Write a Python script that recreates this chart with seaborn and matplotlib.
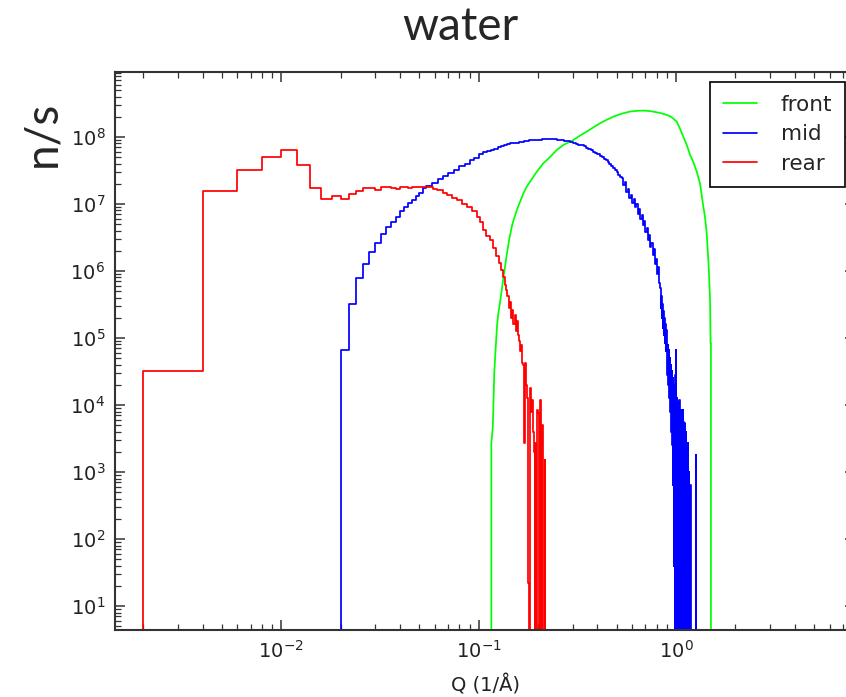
import numpy as np
import pandas as pd
import matplotlib
matplotlib.use("Agg")
import matplotlib.pyplot as plt
import seaborn as sns
from matplotlib.ticker import LogLocator, NullFormatter

# ---------------- data ----------------
series_names = ["front", "mid", "rear"]
series_colors = ["#00ff00", "#0000ff", "#ff0000"]

title_text = "water"
ylabel_text = "n/s"
xlabel_text = "Q (1/Å)"

# bin left edges (Q, 1/Å) and counts (n/s); a 0 means the bin is empty
rear_q = [0.002, 0.002, 0.004, 0.006, 0.008, 0.010, 0.012, 0.014, 0.016, 0.018,
          0.020, 0.022, 0.024, 0.026, 0.028, 0.030, 0.032, 0.034, 0.036, 0.038,
          0.040, 0.042, 0.044, 0.046, 0.048, 0.050, 0.052, 0.054, 0.059, 0.0614,
          0.0661, 0.0693, 0.0734, 0.0778, 0.0825, 0.0874, 0.0927, 0.0983, 0.1018, 0.1054,
          0.1092, 0.1144, 0.1184, 0.1227, 0.127, 0.130, 0.133,
          0.136, 0.138, 0.140, 0.142, 0.144, 0.146, 0.148, 0.150, 0.152, 0.154,
          0.156, 0.158, 0.160, 0.162, 0.164, 0.166, 0.168, 0.170, 0.172, 0.174,
          0.176, 0.178, 0.180, 0.182, 0.184, 0.186, 0.188, 0.190, 0.192, 0.194,
          0.196, 0.198, 0.200, 0.202, 0.204, 0.206, 0.208, 0.210, 0.212, 0.214,
          0.216, 0.218]
rear_counts = [0, 3.25e4, 1.58e7, 3.18e7, 4.98e7, 6.46e7, 3.82e7, 1.73e7, 1.2e7, 1.3e7,
               1.2e7, 1.43e7, 1.58e7, 1.71e7, 1.75e7, 1.62e7, 1.78e7, 1.8e7, 1.7e7, 1.68e7,
               1.76e7, 1.8e7, 1.72e7, 1.8e7, 1.76e7, 1.82e7, 1.78e7, 1.8e7, 1.67e7, 1.62e7,
               1.46e7, 1.36e7, 1.23e7, 1.15e7, 1.0e7, 9.0e6, 7.9e6, 6.4e6, 5.4e6, 4.1e6,
               3.3e6, 2.9e6, 2.2e6, 1.67e6, 1.32e6, 1.04e6, 8.1e5,
               6.2e5, 5.2e5, 4.2e5, 2.8e5, 3.5e5, 2.0e5, 2.6e5, 1.6e5, 2.2e5, 1.26e5,
               1.8e5, 1.1e5, 8.9e4, 6.3e4, 7.9e4, 4.3e4, 4.0e4, 2.7e3, 4.2e4, 2.0e4,
               1.26e4, 22, 0, 1.8e4, 7.9e3, 1.2e4, 4.0e3, 2.0e3, 0, 2.7e3,
               0, 8.5e3, 7.6e3, 0, 1.17e4, 6.3e3, 0, 5.0e3, 0, 0,
               1.5e3, 0]

mid_q = [0.020, 0.020, 0.022, 0.024, 0.026, 0.028, 0.030, 0.032, 0.034, 0.036,
         0.038, 0.040, 0.042, 0.044, 0.046, 0.048, 0.050, 0.052, 0.054, 0.058,
         0.062, 0.066, 0.070, 0.075, 0.080, 0.085, 0.090, 0.095, 0.100, 0.105,
         0.110, 0.115, 0.120, 0.125, 0.130, 0.135, 0.140, 0.145, 0.150, 0.160,
         0.170, 0.180, 0.190, 0.200, 0.210, 0.220, 0.230, 0.240, 0.250, 0.260,
         0.270, 0.280, 0.290, 0.300, 0.310, 0.320, 0.330, 0.340, 0.350, 0.360,
         0.370, 0.380, 0.390, 0.400, 0.410, 0.420, 0.430, 0.440, 0.450, 0.460,
         0.470, 0.480, 0.490, 0.500, 0.510, 0.520, 0.530, 0.540, 0.550, 0.560,
         0.570, 0.580, 0.590, 0.600, 0.610, 0.620, 0.630, 0.640, 0.650, 0.660,
         0.670, 0.680, 0.690, 0.700, 0.710, 0.720, 0.730, 0.740, 0.750, 0.760,
         0.770, 0.780, 0.790, 0.800, 0.810, 0.820, 0.830, 0.835, 0.840, 0.845,
         0.850, 0.855, 0.860, 0.865, 0.870, 0.875, 0.880, 0.885, 0.890, 0.895,
         0.900, 0.905, 0.910, 0.915, 0.920, 0.925, 0.930, 0.935, 0.940, 0.945,
         0.950, 0.955, 0.960, 0.965, 0.970, 0.975, 0.980, 0.985, 0.990, 0.995,
         1.000, 1.005, 1.010, 1.015, 1.020, 1.025, 1.030, 1.035, 1.040, 1.045,
         1.050, 1.055, 1.060, 1.065, 1.070, 1.075, 1.080, 1.085, 1.090, 1.095,
         1.100, 1.105, 1.110, 1.115, 1.120, 1.125, 1.130, 1.135, 1.140, 1.145,
         1.150, 1.155, 1.160, 1.165, 1.170, 1.175, 1.180, 1.185, 1.260, 1.263]
mid_counts = [0, 6.6e4, 3.2e5, 7.8e5, 1.26e6, 1.9e6, 2.64e6, 3.53e6, 4.49e6, 5.45e6,
              6.47e6, 7.9e6, 9.1e6, 1.05e7, 1.15e7, 1.32e7, 1.48e7, 1.71e7, 1.86e7, 2.05e7,
              2.35e7, 2.6e7, 2.9e7, 3.25e7, 3.65e7, 4.0e7, 4.45e7, 4.85e7, 5.5e7, 5.9e7,
              6.1e7, 6.4e7, 6.7e7, 7.0e7, 7.3e7, 7.55e7, 7.8e7, 8.0e7, 8.2e7, 8.5e7,
              8.7e7, 8.9e7, 9.0e7, 9.1e7, 9.2e7, 9.3e7, 9.25e7, 9.2e7, 9.1e7, 9.0e7,
              8.8e7, 8.6e7, 8.4e7, 8.2e7, 7.95e7, 7.7e7, 7.45e7, 7.2e7, 6.9e7, 6.65e7,
              6.35e7, 6.05e7, 5.8e7, 5.5e7, 5.2e7, 4.95e7, 4.7e7, 4.45e7, 4.2e7, 3.95e7,
              3.7e7, 3.45e7, 3.2e7, 2.95e7, 2.7e7, 2.55e7, 2.4e7, 1.95e7, 2.1e7, 1.5e7,
              1.66e7, 1.23e7, 1.38e7, 1.05e7, 1.2e7, 8.9e6, 1.0e7, 7.2e6, 8.3e6, 6.0e6,
              6.9e6, 4.8e6, 5.5e6, 3.8e6, 4.4e6, 2.9e6, 3.5e6, 2.24e6, 2.6e6, 1.74e6,
              2.1e6, 1.26e6, 1.5e6, 9.1e5, 1.15e6, 6.6e5, 5.6e5, 2.8e5, 4.2e5, 2.0e5,
              3.2e5, 1.4e5, 2.5e5, 1.1e5, 2.0e5, 8.3e4, 1.6e5, 6.3e4, 1.3e5, 4.2e4,
              1.0e5, 2.8e4, 7.9e4, 2.0e4, 6.6e4, 1.26e4, 5.0e4, 7.9e3, 4.0e4, 4.0e3,
              3.2e4, 2.5e3, 2.5e4, 630, 2.0e4, 40, 1.6e4, 0, 2.8e4, 0,
              6.6e4, 0, 1.26e4, 32, 1.1e4, 0, 1.0e4, 316, 1.2e4, 0,
              7.9e3, 0, 8.5e3, 100, 7.1e3, 0, 8.5e3, 0, 5.6e3, 0,
              5.4e3, 0, 5.2e3, 0, 4.0e3, 0, 2.7e3, 0, 2.0e3, 0,
              2.7e3, 0, 1.0e3, 0, 380, 0, 630, 0, 1.8e3, 0]

front_q = [0.116, 0.116, 0.118, 0.120, 0.122, 0.124, 0.126, 0.128, 0.1335, 0.139,
           0.143, 0.1473, 0.151, 0.1562, 0.162, 0.1687, 0.175, 0.182, 0.197, 0.213,
           0.230, 0.249, 0.269, 0.302, 0.327, 0.353, 0.380, 0.412, 0.442, 0.482,
           0.527, 0.585, 0.635, 0.683, 0.739, 0.799, 0.849, 0.897, 0.943, 1.008,
           1.048, 1.089, 1.133, 1.177, 1.224, 1.273, 1.323, 1.375, 1.402, 1.430,
           1.461, 1.487, 1.495, 1.502, 1.502]
front_counts = [0, 2.7e3, 4.7e3, 3.0e4, 7.0e4, 1.55e5, 2.4e5, 3.2e5, 7.8e5, 1.8e6,
                3.0e6, 4.6e6, 6.0e6, 8.1e6, 1.07e7, 1.44e7, 1.8e7, 2.14e7, 3.02e7, 4.05e7,
                5.0e7, 6.4e7, 7.6e7, 9.0e7, 1.05e8, 1.2e8, 1.38e8, 1.6e8, 1.78e8, 2.01e8,
                2.21e8, 2.39e8, 2.45e8, 2.47e8, 2.43e8, 2.33e8, 2.24e8, 2.13e8, 2.0e8, 1.69e8,
                1.32e8, 1.0e8, 7.6e7, 5.4e7, 4.2e7, 3.03e7, 2.0e7, 9.1e6, 6.3e6, 3.6e6,
                1.26e6, 3.7e5, 8.3e4, 8.3e4, 0]

# ---------------- figure ----------------
sns.set_style("ticks")
plt.rcParams["font.family"] = ["DejaVu Sans"]
plt.rcParams["mathtext.default"] = "regular"

W, H = 846, 697
fig = plt.figure(figsize=(W / 100, H / 100), dpi=100)
ax = fig.add_axes([115 / W, (H - 630) / H, 740 / W, 558 / H])

# front is finely binned (smooth on screen); mid and rear are drawn as histogram steps
series_data = [(front_q, front_counts, "default"),
               (mid_q, mid_counts, "steps-post"),
               (rear_q, rear_counts, "steps-post")]
for name, color, (q, c, style) in zip(series_names, series_colors, series_data):
    d = pd.DataFrame({"Q": q, "counts": c})
    sns.lineplot(data=d, x="Q", y="counts", color=color, label=name, estimator=None,
                 sort=False, drawstyle=style, linewidth=1.25, ax=ax)

ax.set_xscale("log")
ax.set_yscale("log")
ax.set_xlim(0.00144, 8.06)
ax.set_ylim(4.4, 9.3e8)

for axis in (ax.xaxis, ax.yaxis):
    axis.set_major_locator(LogLocator(base=10, numticks=30))
    axis.set_minor_locator(LogLocator(base=10, subs=np.arange(2, 10), numticks=30))
    axis.set_minor_formatter(NullFormatter())

ax.tick_params(which="both", direction="in", top=True, right=True, color="#333333")
ax.tick_params(which="major", length=7, width=1.1, labelsize=14, pad=7, labelcolor="#222222")
ax.tick_params(which="minor", length=4, width=0.9)
for s in ax.spines.values():
    s.set_color("#333333")
    s.set_linewidth(1.5)

ax.set_xlabel(xlabel_text, fontsize=14, labelpad=9, color="#222222")
ax.yaxis.label.set_visible(False)

fig.text(460 / W, 1 - 40 / H, title_text, ha="center", va="baseline",
         fontsize=33, family=["Lato", "DejaVu Sans"])
fig.text(42 / W, 1 - 134 / H, ylabel_text, ha="center", va="center", rotation=90,
         fontsize=33, family=["Lato", "DejaVu Sans"])

handles, labels = ax.get_legend_handles_labels()
leg = ax.legend(handles, labels, loc="upper right", fontsize=15.5, frameon=True,
                fancybox=False, edgecolor="black", framealpha=1, borderpad=0.6,
                labelspacing=0.45, handlelength=1.6, handletextpad=1.1,
                borderaxespad=0.45)
leg.get_frame().set_linewidth(1.2)
for ln in leg.get_lines():
    ln.set_linewidth(1.25)

fig.savefig("out.png", dpi=100)
